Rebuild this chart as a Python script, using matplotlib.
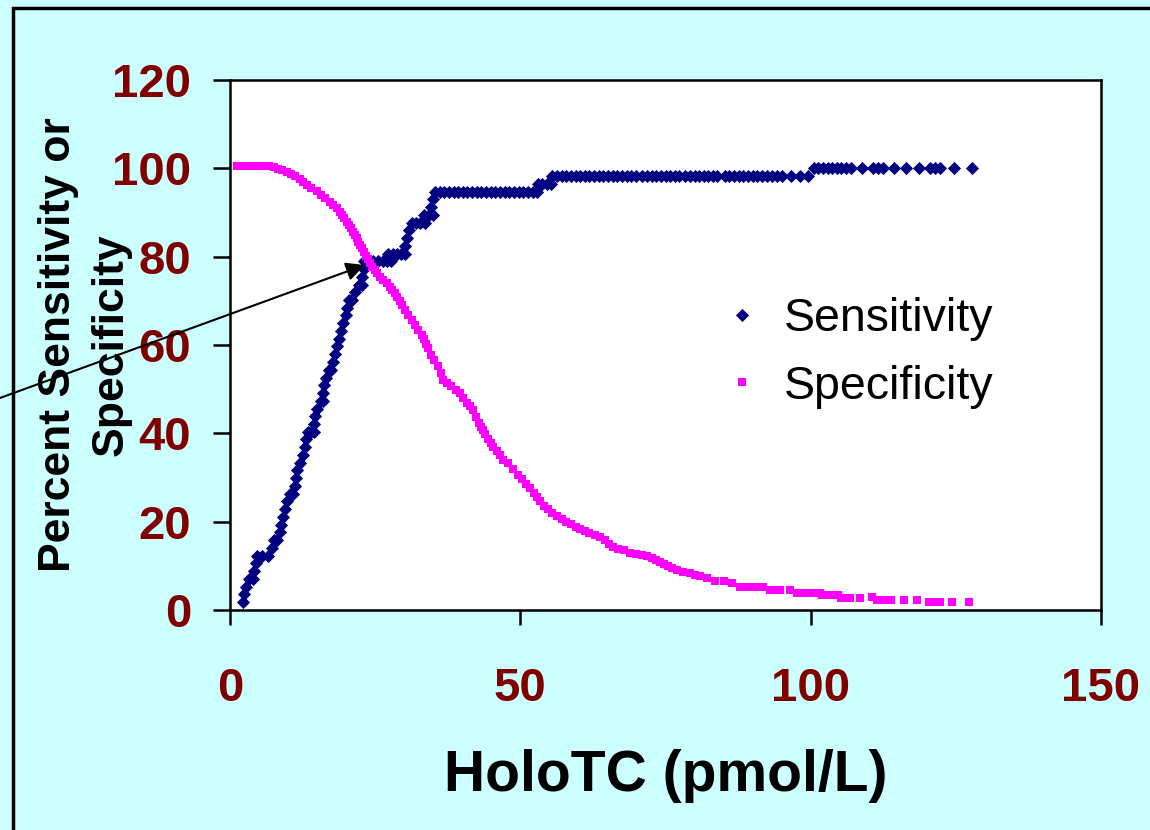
import matplotlib
matplotlib.use('Agg')
import matplotlib.pyplot as plt
from matplotlib.patches import Rectangle

# Sensitivity (navy diamonds)
sens_x = [2.2, 2.4, 2.8, 3.2, 4.0, 4.1, 4.5, 4.7, 5.5, 6.5, 7.3, 7.6, 8.1, 8.6, 8.8,
          9.2, 9.5, 9.9, 10.4, 10.9, 11.2, 11.4, 11.6, 12.1, 12.5, 12.9, 13.1, 13.5,
          14.0, 14.5, 14.5, 14.7, 15.0, 15.6, 16.0, 16.0, 16.2, 16.6, 17.0, 17.4,
          17.7, 18.0, 18.4, 18.7, 19.1, 19.5, 20.0, 20.1, 20.5, 21.0, 21.5, 22.3,
          22.8, 22.8, 23.0,
          23.1, 23.9, 24.7, 25.5, 26.3, 27.0, 27.8,
          27.2, 28.0, 28.8, 29.5, 30.1,
          30.1, 30.4, 30.9,
          31.3, 32.0, 32.8, 33.5,
          33.4, 34.2, 35.0,
          34.7, 35.0,
          35.3, 36.1, 36.9, 37.7, 38.5, 39.3, 40.1, 40.9, 41.7, 42.5, 43.3, 44.1,
          44.9, 45.7, 46.5, 47.3, 48.1, 48.9, 49.7, 50.5, 51.3, 52.1, 52.9,
          53.0, 53.8, 54.6, 55.2,
          55.5, 56.3, 57.1, 57.9, 58.7, 59.5, 60.3, 61.1, 61.9, 62.7, 63.5, 64.3,
          65.1, 65.9, 66.7, 67.5, 68.3, 69.1, 69.9, 71.0, 71.8, 72.6, 73.4, 74.2,
          75.0, 75.8, 76.6, 77.4, 78.4, 79.2, 80.0, 80.8, 81.6, 82.4, 83.2, 83.9,
          85.2, 86.0, 86.8, 87.6, 88.4, 89.2, 90.0, 90.8, 91.6, 92.4, 93.3, 94.2,
          95.1, 96.6, 98.1, 99.6,
          100.5, 101.3, 102.1, 102.9, 103.7, 104.5, 105.3, 106.1, 107.0, 108.8,
          110.7, 111.6, 112.5, 114.3, 116.5, 118.7, 120.5, 121.4, 122.3, 124.7, 127.8]
sens_y = [1.75, 3.51, 5.26, 7.02, 7.02, 8.77, 10.53, 12.28, 12.28, 12.28, 14.04, 15.79,
          15.79, 17.54, 19.30, 21.05, 22.81, 24.56, 26.32, 26.32, 28.07, 29.82, 31.58,
          33.33, 35.09, 36.84, 38.60, 40.35, 40.35, 40.35, 42.11, 43.86, 45.61, 47.37,
          47.37, 49.12, 50.88, 52.63, 54.39, 54.39, 56.14, 57.89, 59.65, 61.40, 63.16,
          64.91, 66.67, 68.42, 70.18, 70.18, 71.93, 73.68, 73.68, 75.44, 77.19,
          78.95, 78.95, 78.95, 78.95, 78.95, 78.95, 78.95,
          80.70, 80.70, 80.70, 80.70, 80.70,
          82.46, 84.21, 85.96,
          87.72, 87.72, 87.72, 87.72,
          89.47, 89.47, 89.47,
          91.23, 92.98,
          94.74, 94.74, 94.74, 94.74, 94.74, 94.74, 94.74, 94.74, 94.74, 94.74,
          94.74, 94.74, 94.74, 94.74, 94.74, 94.74, 94.74, 94.74, 94.74, 94.74,
          94.74, 94.74, 94.74,
          96.49, 96.49, 96.49, 96.49,
          98.25, 98.25, 98.25, 98.25, 98.25, 98.25, 98.25, 98.25, 98.25, 98.25,
          98.25, 98.25, 98.25, 98.25, 98.25, 98.25, 98.25, 98.25, 98.25, 98.25,
          98.25, 98.25, 98.25, 98.25, 98.25, 98.25, 98.25, 98.25, 98.25, 98.25,
          98.25, 98.25, 98.25, 98.25, 98.25, 98.25, 98.25, 98.25, 98.25, 98.25,
          98.25, 98.25, 98.25, 98.25, 98.25, 98.25, 98.25, 98.25, 98.25, 98.25,
          98.25, 98.25,
          100, 100, 100, 100, 100, 100, 100, 100, 100, 100, 100, 100, 100, 100,
          100, 100, 100, 100, 100, 100, 100]

# Specificity (magenta squares)
spec_x = [1.2, 1.9, 2.6, 3.3, 4.0, 4.7, 5.4, 6.1, 6.8, 7.5, 8.2, 9.0, 9.8, 10.5,
          11.2, 12.0, 12.6, 13.3, 14.0, 14.9, 15.6, 16.4, 17.2, 17.8, 18.4, 18.9,
          19.3, 19.7, 20.1, 20.5, 20.9, 21.2, 21.5, 21.8, 22.1, 22.4, 22.7, 23.0,
          23.4, 23.7, 24.1, 24.5, 24.9, 25.3, 25.9, 26.4, 27.0, 27.5, 27.9, 28.4,
          28.8, 29.2, 29.6, 30.2, 30.7, 31.3, 31.9, 32.4, 33.0, 33.4, 33.8, 34.1,
          34.6, 35.2, 35.9, 36.3, 36.7, 37.4, 38.1, 38.9, 39.6, 40.2, 40.8, 41.4,
          41.9, 42.4, 42.9, 43.3, 43.6, 44.0, 44.5, 44.9, 45.3, 45.9, 46.5, 47.1,
          47.9, 48.7, 49.6, 50.3, 51.0, 51.7, 52.3, 52.8, 53.4, 54.0, 54.7, 55.5,
          56.3, 57.1, 57.9, 58.7, 59.5, 60.3, 61.1, 61.9, 62.8, 63.7, 64.5, 65.3,
          66.0, 66.9, 67.9, 68.9, 69.9, 70.9, 71.8, 72.6, 73.3, 74.0, 74.7, 75.4,
          76.1, 77.0, 78.0, 79.2, 80.0, 80.9, 82.1, 83.5, 85.0, 86.4, 87.8, 88.6,
          89.4, 90.2, 91.0, 91.8, 93.0, 93.8, 94.7, 96.4, 97.6, 98.7, 99.6, 100.5,
          101.6, 102.0, 102.8, 103.8, 104.7, 105.3, 106.1, 106.8, 108.5, 110.5,
          111.4, 112.5, 113.9, 116.1, 118.3, 120.3, 121.2, 122.3, 124.3, 127.3]
spec_y = [100.6, 100.6, 100.6, 100.6, 100.6, 100.6, 100.6, 100.6, 100.6, 100.2,
          99.9, 99.6, 99.2, 98.8, 98.2, 97.6, 97.0, 96.3, 95.6, 94.8, 94.0, 93.2,
          92.4, 91.6, 90.9, 90.2, 89.4, 88.7, 87.9, 87.1, 86.4, 85.6, 84.9, 84.1,
          83.4, 82.6, 81.9, 81.1, 80.2, 79.4, 78.5, 77.7, 77.0, 76.2, 75.4, 74.7,
          74.0, 73.2, 72.5, 71.7, 70.8, 69.9, 69.0, 67.9, 66.8, 65.7, 64.6, 63.4,
          62.3, 61.3, 60.2, 59.2, 57.8, 56.5, 55.2, 53.6, 52.1, 51.3, 50.6, 49.8,
          49.1, 48.0, 46.9, 46.1, 45.3, 43.8, 42.3, 41.5, 40.8, 39.8, 38.7, 37.8,
          37.0, 36.0, 35.0, 34.0, 33.2, 32.0, 30.6, 29.6, 28.6, 27.6, 26.5, 25.5,
          24.6, 23.6, 22.8, 22.0, 21.3, 20.6, 20.0, 19.4, 18.8, 18.3, 17.8, 17.4,
          17.0, 16.6, 15.8, 15.0, 14.3, 13.9, 13.5, 12.8, 12.6, 12.4, 12.2, 11.7,
          11.2, 10.9, 10.4, 9.9, 9.4, 9.1, 8.7, 8.3, 8.0, 7.6, 7.2, 6.6, 6.6, 6.0,
          5.2, 5.2, 5.2, 5.2, 5.2, 5.2, 4.5, 4.5, 4.5, 4.5, 3.9, 3.9, 3.9, 3.9,
          3.9, 3.4, 3.4, 3.4, 3.4, 2.8, 2.8, 2.8, 2.8, 2.9, 2.3, 2.3, 2.3, 2.3,
          2.3, 1.7, 1.7, 1.7, 1.7, 1.7]

x_ticks = [0, 50, 100, 150]
y_ticks = [0, 20, 40, 60, 80, 100, 120]

BG = '#ccffff'
TICK_RED = '#800000'

fig = plt.figure(figsize=(11.5, 8.3), dpi=100, facecolor=BG)
ax = fig.add_axes([0.2, 0.2651, 0.7574, 0.6386])
ax.set_facecolor('white')

ax.plot(sens_x, sens_y, linestyle='none', marker='D', markersize=6,
        markeredgewidth=0.6, color='#000080', label='Sensitivity')
ax.plot(spec_x, spec_y, linestyle='none', marker='s', markersize=5.2,
        markeredgewidth=0, color='#ff00ff', label='Specificity')

ax.set_xlim(0, 150)
ax.set_ylim(0, 120)
ax.set_xticks(x_ticks)
ax.set_yticks(y_ticks)

for s in ax.spines.values():
    s.set_linewidth(1.8)
ax.tick_params(axis='y', direction='out', length=12, width=1.8, pad=16)
ax.tick_params(axis='x', direction='out', length=11, width=1.8, pad=30)
for lab in ax.get_xticklabels() + ax.get_yticklabels():
    lab.set_fontfamily('Liberation Sans')
    lab.set_fontweight('bold')
    lab.set_fontsize(34)
    lab.set_color(TICK_RED)

ax.set_xlabel('HoloTC (pmol/L)', fontfamily='Liberation Sans',
              fontweight='bold', fontsize=41)
ax.xaxis.set_label_coords(0.5, -0.262)

ax.set_ylabel('Percent Sensitivity or\nSpecificity', fontfamily='Liberation Sans',
              fontweight='bold', fontsize=32, linespacing=1.35)
ax.yaxis.set_label_coords(-0.113, 0.5)

leg = ax.legend(loc='upper left', bbox_to_anchor=(0.55, 0.625), frameon=False,
                prop={'family': 'Liberation Sans', 'size': 33.5},
                handlelength=0.6, handletextpad=0.6, labelspacing=0.5,
                borderaxespad=0)

# arrow pointing at the crossing point
ax.annotate('', xy=(23.2, 78.1), xytext=(-39.6, 48),
            arrowprops=dict(arrowstyle='-|>', color='black', lw=1.5,
                            mutation_scale=28, shrinkA=0, shrinkB=0),
            annotation_clip=False)

# outer frame of the slide, cut off at right and bottom
fig.patches.append(Rectangle((0.0113, -0.1), 1.2, 1.0904, transform=fig.transFigure,
                             fill=False, edgecolor='black', linewidth=2.5))

fig.savefig('out.png', dpi=100, facecolor=BG)
